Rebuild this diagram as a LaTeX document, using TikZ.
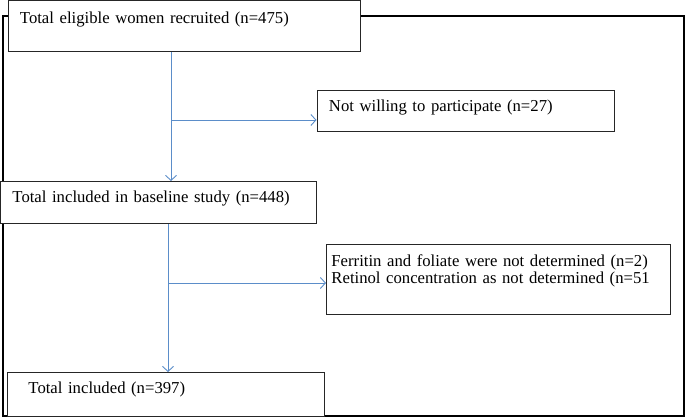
\documentclass[tikz,border=0pt]{standalone}
\usepackage{fontspec}
\setmainfont{Liberation Serif}
\usetikzlibrary{arrows.meta}
\definecolor{flowblue}{RGB}{91,141,201}
\begin{document}
\begin{tikzpicture}[x=1pt,y=-1pt,
		box/.style={draw=black!85,fill=white,line width=0.9pt,anchor=north west,
			inner ysep=0pt,align=left,font=\fontsize{16.7}{17.5}\selectfont},
		flow/.style={draw=flowblue,line width=0.9pt,-{Straight Barb[length=5pt,width=11pt]}}
	]
		\useasboundingbox (0,0) rectangle (685,417);
		% outer frame
		\draw[line width=1.1pt] (3,16) rectangle (684,416);
		% boxes
		\node[box,inner xsep=12pt,text width=328pt,text height=23pt,text depth=28pt] (b1) at (7.5,0) {Total eligible women recruited (n=475)};
		\node[box,inner xsep=12pt,text width=273pt,text height=21pt,text depth=20pt] (nw) at (316.5,90) {Not willing to participate (n=27)};
		\node[box,inner xsep=12pt,text width=292pt,text height=21pt,text depth=21pt] (b2) at (0,181) {Total included in baseline study (n=448)};
		\node[box,inner xsep=5pt,text width=334pt,text height=22pt,text depth=48pt] (nd) at (326,244) {Ferritin and foliate were not determined (n=2)\\Retinol concentration as not determined (n=51};
		\node[box,inner xsep=21pt,text width=275pt,text height=21pt,text depth=23pt] (b3) at (7,372) {Total included (n=397)};
		% connectors
		\coordinate (j1) at (171,120);
		\coordinate (j2) at (168,283);
		\draw[flow] (j1 |- b1.south) -- (j1 |- b2.north);
		\draw[flow] (j1) -- (j1 -| nw.west);
		\draw[flow] (j2 |- b2.south) -- (j2 |- b3.north);
		\draw[flow] (j2) -- (j2 -| nd.west);
	\end{tikzpicture}
\end{document}
